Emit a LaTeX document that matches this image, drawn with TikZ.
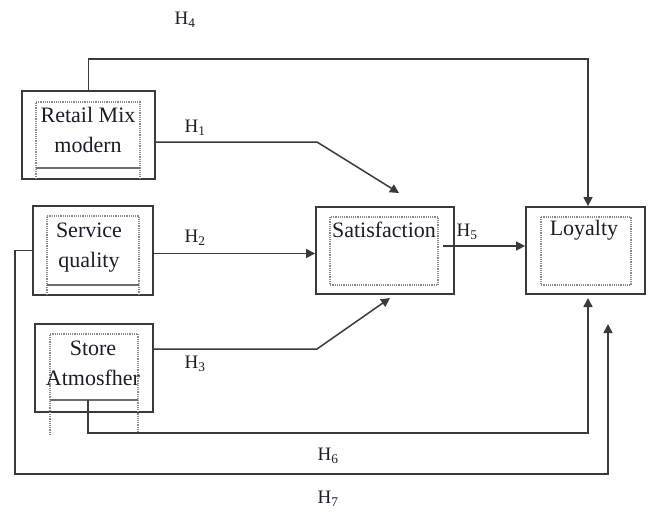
\documentclass[tikz,border=0pt]{standalone}
\usepackage{fontspec}
\setmainfont{Liberation Serif}
\usetikzlibrary{arrows.meta}
\definecolor{linec}{HTML}{3A3A3A}
\definecolor{dotc}{HTML}{8A8A8A}
\definecolor{txtc}{HTML}{1C1C2A}
\tikzset{
  outerbox/.style={draw=linec, line width=1.8pt, inner sep=0pt},
  innerdot/.style={draw=dotc, line width=1.2pt, densely dotted},
  innersolid/.style={draw=dotc!80!black, line width=1.6pt},
  boxtext/.style={text=txtc, font=\fontsize{22}{30}\selectfont, align=center, inner sep=0pt},
  hlabel/.style={text=txtc, font=\fontsize{19}{21}\selectfont, inner sep=0pt},
  conn/.style={draw=linec, line width=1.5pt},
  arr/.style={conn, -{Triangle[length=9pt, width=9pt]}}
}
\begin{document}
\begin{tikzpicture}[x=1pt, y=-1pt]
\useasboundingbox (0,0) rectangle (649,512);
% outer boxes
\node[outerbox, minimum width=133pt, minimum height=88pt] (retail) at (88.5,135) {};
\node[outerbox, minimum width=120pt, minimum height=89pt] (service) at (93,250.5) {};
\node[outerbox, minimum width=118pt, minimum height=88pt] (store) at (94,368) {};
\node[outerbox, minimum width=138pt, minimum height=87pt] (sat) at (385,250.5) {};
\node[outerbox, minimum width=119pt, minimum height=87pt] (loy) at (585.5,250.5) {};
% inner boxes
\draw[innerdot] (36,179) -- (36,102) -- (140,102) -- (140,179);
\draw[innersolid] (36,168) -- (140,168);
\draw[innerdot] (47,295) -- (47,216) -- (139,216) -- (139,295);
\draw[innersolid] (47,285) -- (139,285);
\draw[innerdot] (50,435) -- (50,334) -- (138,334) -- (138,435);
\draw[innersolid] (50,400) -- (138,400);
\draw[innerdot] (330,217) rectangle (438,285);
\draw[innerdot] (541,217) rectangle (631,285);
% texts
\node[boxtext] (tretail) at (88,130) {Retail Mix\\modern};
\node[boxtext] (tservice) at (89,248) {Service\\quality};
\node[boxtext] (tstore) at (93,363) {Store\\Atmosfher};
\node[boxtext] (tsat) at (384,230) {Satisfaction};
\node[boxtext] (tloy) at (584,230) {Loyalty};
% coordinates
\coordinate (h1mid) at (317,142);
\coordinate (h1end) at (399,193);
\coordinate (h3mid) at (317,349);
\coordinate (h3end) at (390,298);
\coordinate (h5start) at (443,246);
\coordinate (h6start) at (88,400);
\coordinate (h6end) at (588,298);
\coordinate (h7end) at (608,324);
% connectors
\draw[arr] (retail.north) -- ++(0,-31) -| ([xshift=2.5pt]loy.north);
\draw[arr] ([yshift=-7pt]retail.east) -- (h1mid) -- (h1end);
\draw[arr] ([yshift=-3pt]service.east) -- ([yshift=-3pt]sat.west);
\draw[arr] ([yshift=19pt]store.east) -- (h3mid) -- (h3end);
\draw[arr] (h5start) -- (h5start -| loy.west);
\draw[arr] (h6start) -- (88,433) -| (h6end);
\draw[arr] (service.west) -- (15,250.5) -- (15,474) -| (h7end);
% labels
\node[hlabel] (l4) at (185,20) {H\textsubscript{4}};
\node[hlabel] (l1) at (195,128) {H\textsubscript{1}};
\node[hlabel] (l2) at (195,238) {H\textsubscript{2}};
\node[hlabel] (l3) at (195,364) {H\textsubscript{3}};
\node[hlabel] (l5) at (467,232) {H\textsubscript{5}};
\node[hlabel] (l6) at (328,456) {H\textsubscript{6}};
\node[hlabel] (l7) at (328,499) {H\textsubscript{7}};
\end{tikzpicture}
\end{document}
